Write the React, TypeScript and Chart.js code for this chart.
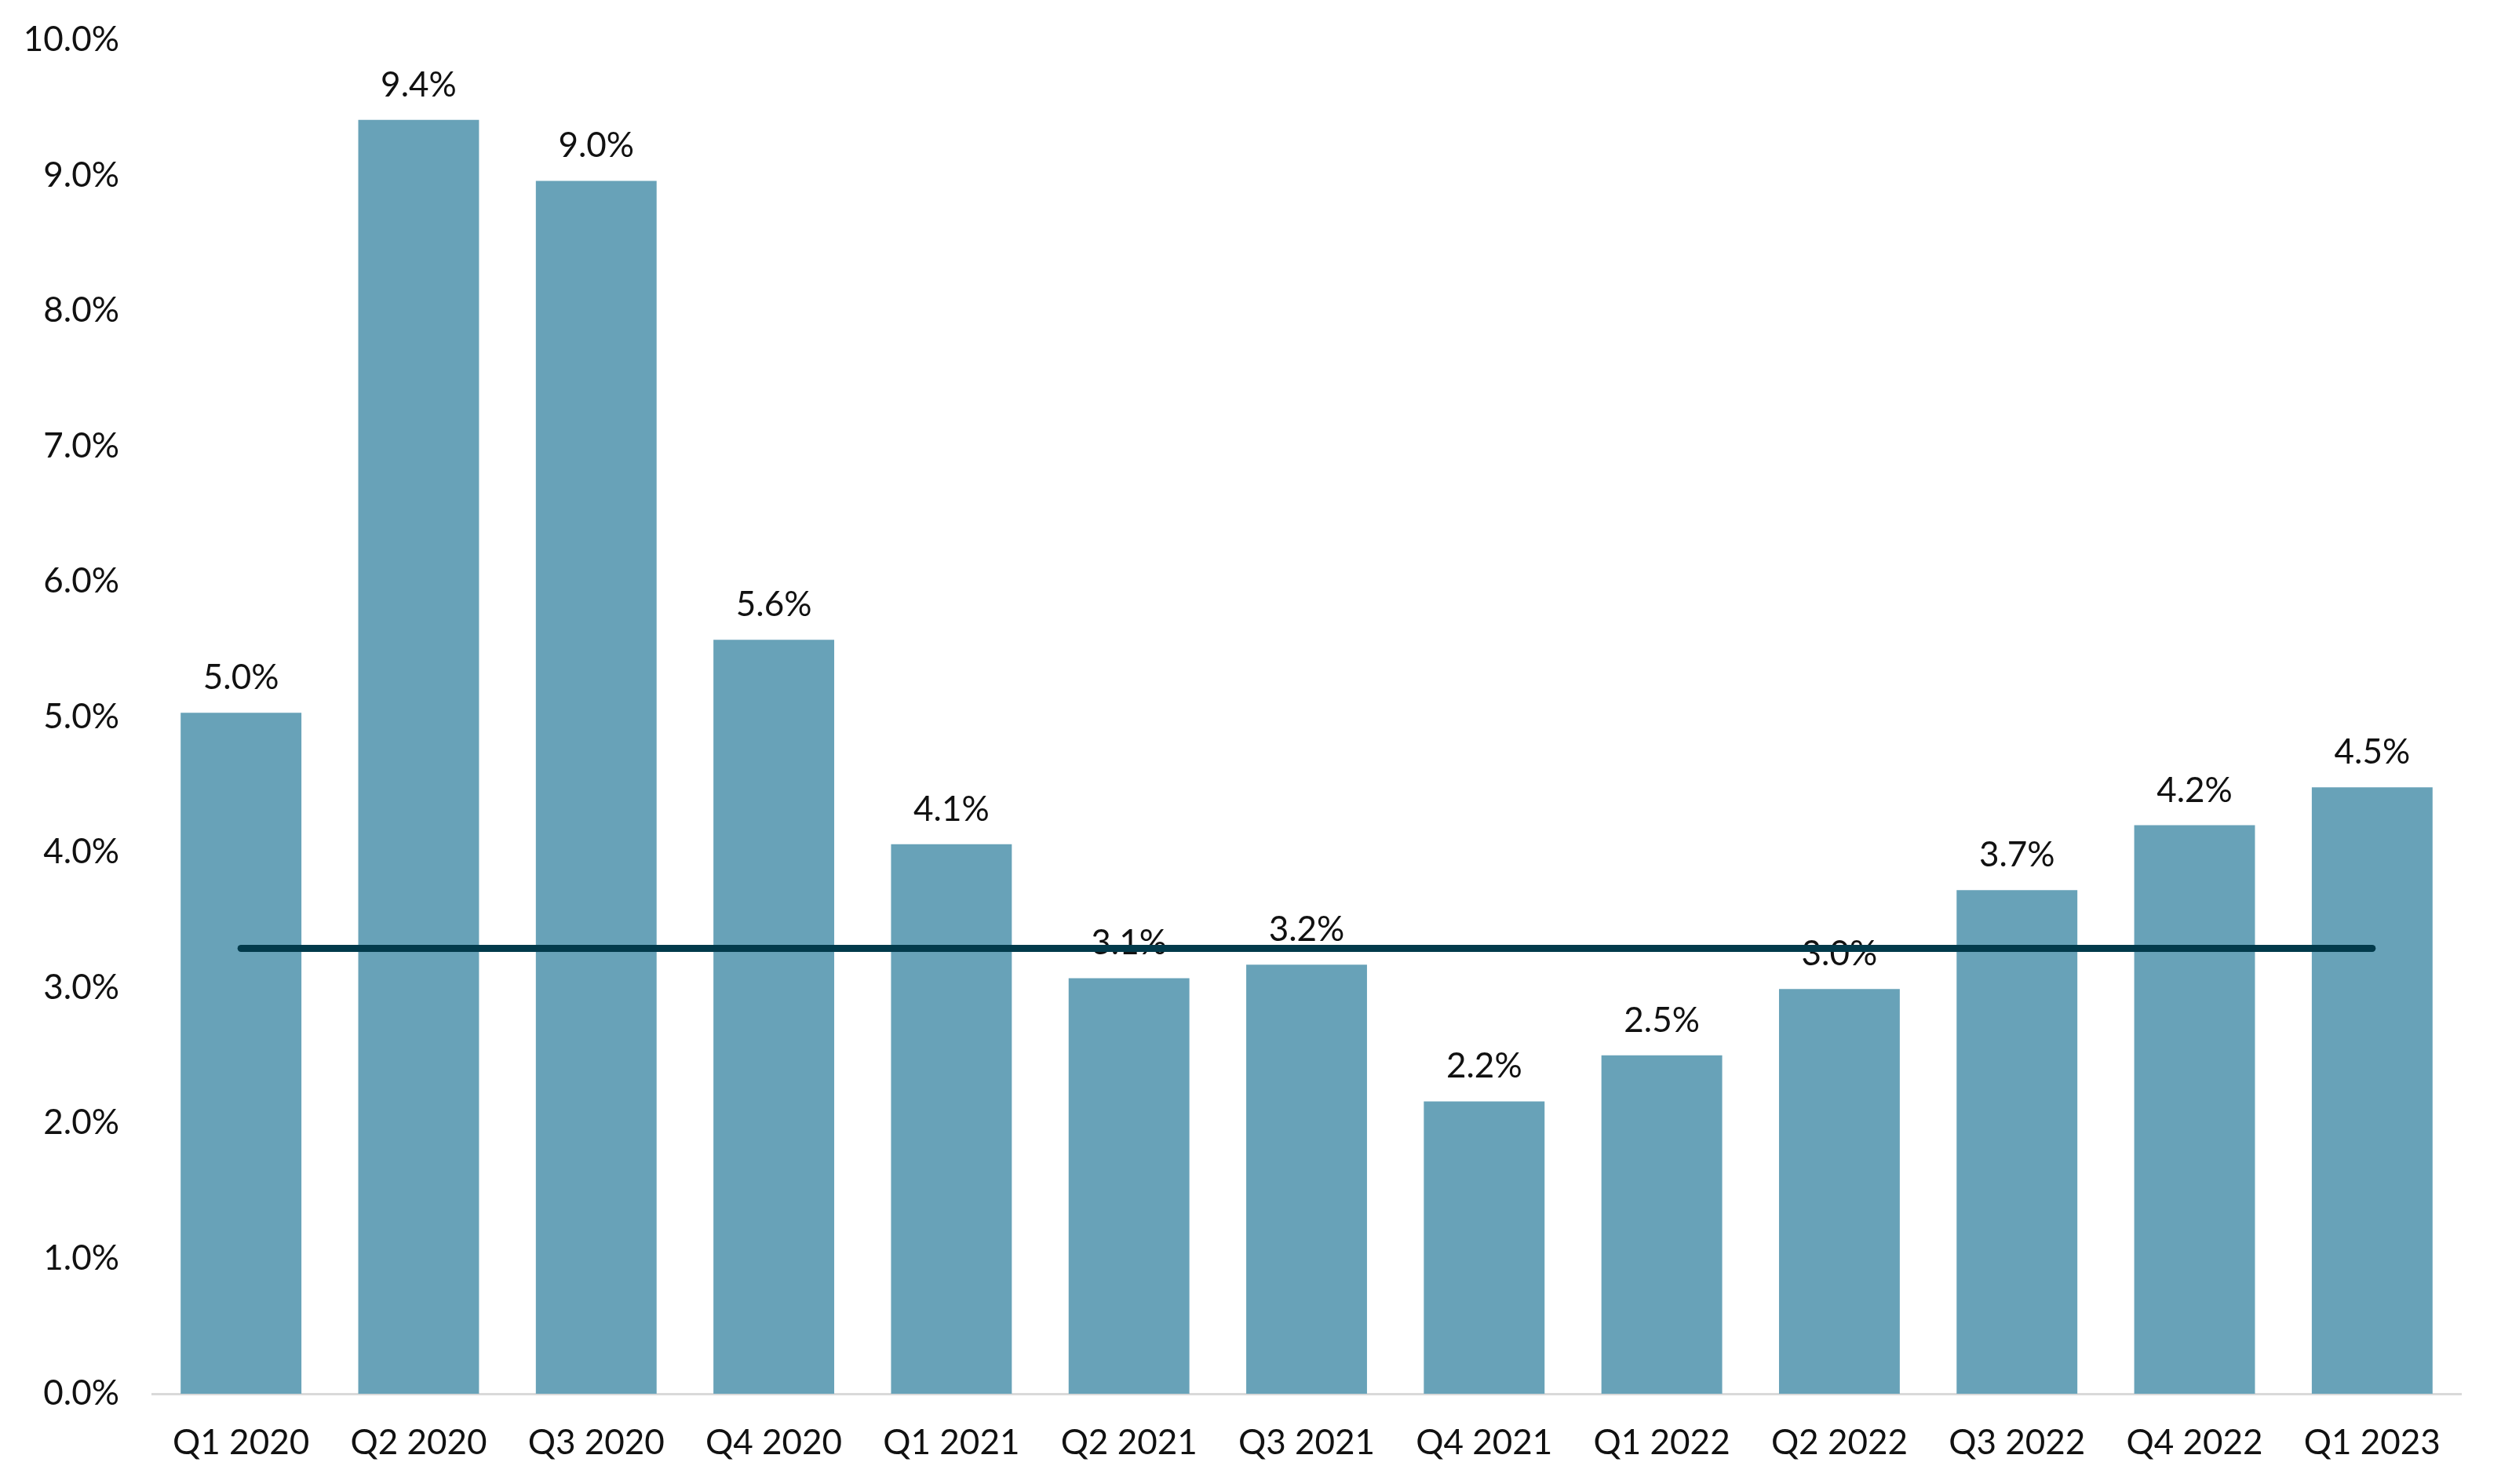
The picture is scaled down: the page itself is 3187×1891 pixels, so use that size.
import React, { useEffect, useRef } from "react";
import { Chart, registerables } from "chart.js";

Chart.register(...registerables);

const categories = [
  "Q1 2020", "Q2 2020", "Q3 2020", "Q4 2020",
  "Q1 2021", "Q2 2021", "Q3 2021", "Q4 2021",
  "Q1 2022", "Q2 2022", "Q3 2022", "Q4 2022",
  "Q1 2023",
];
const barValues = [5.03, 9.41, 8.96, 5.57, 4.06, 3.07, 3.17, 2.16, 2.5, 2.99, 3.72, 4.2, 4.48];
const barLabels = ["5.0%", "9.4%", "9.0%", "5.6%", "4.1%", "3.1%", "3.2%", "2.2%", "2.5%", "3.0%", "3.7%", "4.2%", "4.5%"];
const averageValue = 3.29;
const yTicks = [0, 1, 2, 3, 4, 5, 6, 7, 8, 9, 10];

const FONT = "Lato, 'DejaVu Sans', sans-serif";

const labelPlugin = {
  id: "barLabels",
  afterDatasetDraw(chart: any, args: any) {
    if (args.index !== 0) return;
    const ctx = chart.ctx;
    const meta = chart.getDatasetMeta(0);
    ctx.save();
    ctx.font = `44px ${FONT}`;
    ctx.fillStyle = "#111111";
    ctx.textAlign = "center";
    ctx.textBaseline = "alphabetic";
    meta.data.forEach((el: any, i: number) => {
      ctx.fillText(barLabels[i], el.x, el.y - 30);
    });
    ctx.restore();
  },
};

export default function App() {
  const ref = useRef<HTMLCanvasElement | null>(null);
  useEffect(() => {
    document.body.style.margin = "0";
    if (!ref.current) return;
    const chart = new Chart(ref.current, {
      type: "bar",
      data: {
        labels: categories,
        datasets: [
          {
            type: "bar",
            data: barValues,
            backgroundColor: "#68A2B8",
            categoryPercentage: 1,
            barPercentage: 0.68,
            order: 1,
          } as any,
          {
            type: "line",
            data: categories.map(() => averageValue),
            borderColor: "#023A4B",
            borderWidth: 9,
            borderCapStyle: "round",
            pointRadius: 0,
            fill: false,
            order: 0,
          } as any,
        ],
      },
      options: {
        animation: false,
        responsive: true,
        maintainAspectRatio: false,
        layout: { padding: { left: 0, right: 51, top: 51, bottom: 0 } },
        plugins: {
          legend: { display: false },
          tooltip: { enabled: false },
        },
        scales: {
          x: {
            grid: { display: false, drawTicks: false },
            border: { display: true, color: "#D9D9D9", width: 3 },
            ticks: {
              font: { family: FONT, size: 44 },
              color: "#111111",
              padding: 36,
              maxRotation: 0,
              autoSkip: false,
            },
            afterFit: (s: any) => { s.height = 115; },
          },
          y: {
            min: 0,
            max: 10,
            grid: { display: false, drawTicks: true, tickLength: 42 },
            border: { display: false },
            afterBuildTicks: (s: any) => { s.ticks = yTicks.map((v) => ({ value: v })); },
            ticks: {
              font: { family: FONT, size: 44 },
              color: "#111111",
              padding: 0,
              callback: (v: any) => Number(v).toFixed(1) + "%",
            },
            afterFit: (s: any) => { s.width = 194; },
          },
        },
      },
      plugins: [labelPlugin],
    });
    return () => chart.destroy();
  }, []);
  return (
    <div style={{ position: "fixed", left: 0, top: 0, width: "3187px", height: "1891px" }}>
      <canvas ref={ref} />
    </div>
  );
}
